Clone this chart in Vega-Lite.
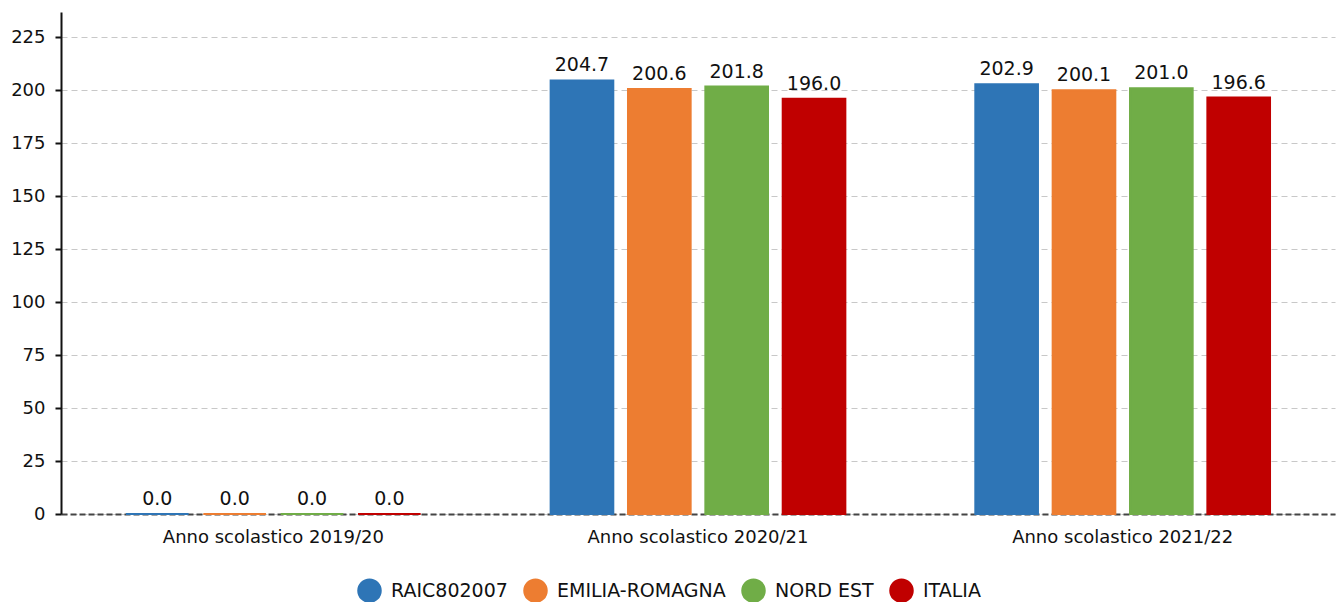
{
  "$schema": "https://vega.github.io/schema/vega-lite/v6.json",
  "width": 1274,
  "height": 502,
  "padding": {"left": 61, "top": 12, "right": 5, "bottom": 88},
  "autosize": {"type": "none"},
  "config": {
    "font": "DejaVu Sans",
    "view": {"stroke": null}
  },
  "data": {
    "values": [
      {"anno": "Anno scolastico 2019/20", "serie": "RAIC802007", "valore": 0.0},
      {"anno": "Anno scolastico 2019/20", "serie": "EMILIA-ROMAGNA", "valore": 0.0},
      {"anno": "Anno scolastico 2019/20", "serie": "NORD EST", "valore": 0.0},
      {"anno": "Anno scolastico 2019/20", "serie": "ITALIA", "valore": 0.0},
      {"anno": "Anno scolastico 2020/21", "serie": "RAIC802007", "valore": 204.7},
      {"anno": "Anno scolastico 2020/21", "serie": "EMILIA-ROMAGNA", "valore": 200.6},
      {"anno": "Anno scolastico 2020/21", "serie": "NORD EST", "valore": 201.8},
      {"anno": "Anno scolastico 2020/21", "serie": "ITALIA", "valore": 196.0},
      {"anno": "Anno scolastico 2021/22", "serie": "RAIC802007", "valore": 202.9},
      {"anno": "Anno scolastico 2021/22", "serie": "EMILIA-ROMAGNA", "valore": 200.1},
      {"anno": "Anno scolastico 2021/22", "serie": "NORD EST", "valore": 201.0},
      {"anno": "Anno scolastico 2021/22", "serie": "ITALIA", "valore": 196.6}
    ]
  },
  "encoding": {
    "x": {
      "field": "anno", "type": "nominal",
      "scale": {"paddingInner": 0, "paddingOuter": 0},
      "axis": {
        "title": null, "labelAngle": 0, "ticks": false, "labelLimit": 400,
        "labelFontSize": 18, "labelColor": "#111", "labelPadding": 14,
        "domainColor": "#444", "domainDash": [6, 3], "domainWidth": 2
      }
    },
    "xOffset": {
      "field": "serie", "type": "nominal",
      "sort": ["RAIC802007", "EMILIA-ROMAGNA", "NORD EST", "ITALIA"],
      "scale": {"paddingInner": 0.19, "paddingOuter": 0.84}
    },
    "y": {
      "field": "valore", "type": "quantitative",
      "scale": {"domain": [0, 237], "nice": false},
      "axis": {
        "title": null, "values": [0, 25, 50, 75, 100, 125, 150, 175, 200, 225],
        "labelFontSize": 18, "labelColor": "#111", "labelPadding": 10,
        "domainColor": "#111", "domainWidth": 2,
        "tickColor": "#111", "tickWidth": 2, "tickSize": 6,
        "gridColor": "#c8c8c8", "gridDash": [6, 4], "gridWidth": 1
      }
    }
  },
  "layer": [
    {
      "mark": {"type": "bar", "strokeWidth": 2},
      "encoding": {
        "color": {
          "field": "serie", "type": "nominal",
          "sort": ["RAIC802007", "EMILIA-ROMAGNA", "NORD EST", "ITALIA"],
          "scale": {
            "domain": ["RAIC802007", "EMILIA-ROMAGNA", "NORD EST", "ITALIA"],
            "range": ["#2E75B6", "#ED7D31", "#70AD47", "#C00000"]
          },
          "legend": {
            "title": null, "orient": "none", "direction": "horizontal",
            "legendX": 296, "legendY": 566,
            "symbolType": "circle", "symbolSize": 600, "symbolStrokeWidth": 0,
            "labelFontSize": 19, "labelColor": "#111", "columnPadding": 15,
            "labelOffset": 9, "labelLimit": 400
          }
        },
        "stroke": {
          "field": "serie", "type": "nominal",
          "scale": {
            "domain": ["RAIC802007", "EMILIA-ROMAGNA", "NORD EST", "ITALIA"],
            "range": ["#2E75B6", "#ED7D31", "#70AD47", "#C00000"]
          },
          "legend": null
        }
      }
    },
    {
      "mark": {"type": "text", "baseline": "alphabetic", "dy": -9, "fontSize": 19, "color": "#111"},
      "encoding": {
        "text": {"field": "valore", "type": "quantitative", "format": ".1f"}
      }
    }
  ]
}
